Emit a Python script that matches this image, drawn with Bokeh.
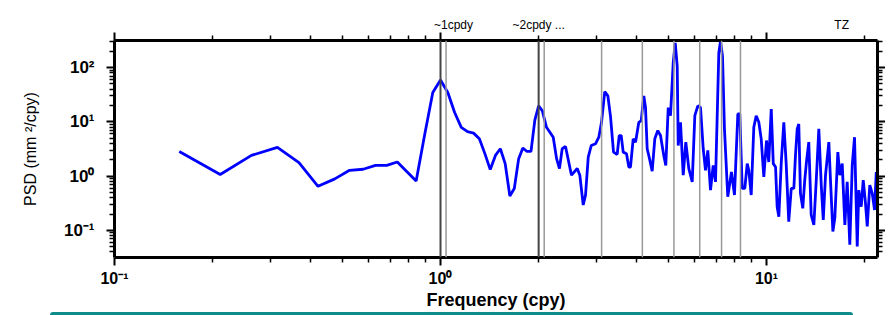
from bokeh.plotting import figure
from bokeh.models import LogAxis, FixedTicker, Span, Div
from bokeh.layouts import column
from bokeh.embed import file_html
from bokeh.resources import INLINE

# ---- data ----
freq = [0.158, 0.211, 0.263, 0.316, 0.368, 0.421, 0.474, 0.526, 0.579, 0.632,
        0.684, 0.737, 0.842, 0.895, 0.947, 1.0, 1.053, 1.105, 1.158, 1.21,
        1.263, 1.316, 1.368, 1.421, 1.474, 1.526, 1.579, 1.632, 1.684, 1.737,
        1.789, 1.842, 1.895, 1.947, 2.0, 2.053, 2.114, 2.217, 2.27, 2.317,
        2.362, 2.418, 2.522, 2.627, 2.675, 2.74, 2.785, 2.839, 2.9, 2.989,
        3.059, 3.118, 3.19, 3.261, 3.323, 3.394, 3.483, 3.533, 3.583, 3.634,
        3.72, 3.781, 3.826, 3.9, 3.965, 4.058, 4.127, 4.204, 4.254, 4.305,
        4.376, 4.46, 4.543, 4.64, 4.73, 4.84, 4.91, 4.995, 5.076, 5.174,
        5.248, 5.322, 5.36, 5.447, 5.553, 5.655, 5.777, 5.917, 6.027, 6.156,
        6.274, 6.395, 6.5, 6.606, 6.733, 6.862, 6.975, 7.14, 7.226, 7.328,
        7.43, 7.606, 7.807, 7.975, 8.166, 8.281, 8.423, 8.578, 8.726, 8.825,
        8.976, 9.142, 9.298, 9.472, 9.632, 9.811, 10.0, 10.16, 10.34, 10.49,
        10.66, 10.78, 10.91, 11.1, 11.3, 11.49, 11.7, 11.91, 12.13, 12.27,
        12.42, 12.56, 12.71, 12.92, 13.1, 13.26, 13.48, 13.71, 13.97, 14.21,
        14.47, 14.72, 14.93, 15.17, 15.53, 15.72, 15.98, 16.2, 16.55, 16.78,
        17.07, 17.39, 17.68, 18.01, 18.32, 18.62, 18.98, 19.19, 19.52, 19.8,
        20.12, 20.37, 20.74, 21.1, 21.45, 21.71, 21.87]
psd = [2.85, 1.07, 2.41, 3.38, 1.77, 0.65, 0.89, 1.28, 1.34, 1.58,
       1.58, 1.82, 0.81, 6.0, 34.7, 59.0, 34.7, 14.9, 7.9, 6.6,
       6.2, 4.9, 2.6, 1.32, 2.41, 3.2, 1.7, 0.43, 0.59, 2.1,
       3.3, 2.85, 2.85, 10.8, 19.8, 16.0, 7.94, 5.21, 2.1, 1.38,
       3.2, 3.52, 1.04, 1.38, 1.04, 0.294, 0.447, 2.24, 3.67, 3.95,
       5.21, 9.8, 36.2, 30.2, 12.5, 2.77, 2.51, 5.6, 5.6, 2.77,
       2.59, 1.47, 1.47, 4.87, 4.23, 9.8, 10.5, 30.2, 18.4, 3.2,
       2.1, 1.23, 4.87, 6.92, 5.6, 2.41, 1.58, 18.4, 13.0, 123.0,
       287.0, 107.0, 3.67, 9.8, 1.04, 4.23, 1.38, 0.783, 13.0, 19.8,
       18.4, 3.2, 1.28, 2.98, 0.552, 1.58, 0.783, 187.0, 306.0, 163.0,
       7.43, 0.417, 1.19, 0.448, 14.0, 14.0, 0.593, 0.593, 1.7, 1.28,
       0.448, 7.94, 13.0, 9.8, 4.87, 0.967, 4.54, 1.82, 17.2, 1.7,
       1.47, 0.273, 0.179, 1.82, 9.8, 1.7, 0.145, 0.593, 0.593, 2.41,
       7.43, 9.16, 0.481, 0.255, 0.841, 1.82, 4.23, 0.193, 0.126, 0.841,
       7.43, 0.682, 0.156, 1.04, 4.23, 0.783, 0.0953, 0.168, 2.77, 1.04,
       1.7, 0.126, 0.783, 0.0545, 1.58, 5.21, 0.0507, 0.552, 0.273, 0.841,
       0.315, 0.118, 0.682, 0.481, 0.238, 1.19, 0.733]

annual_lines = [1.0, 2.0]
draconitic_lines = [1.04, 2.08, 3.12, 4.16, 5.20, 6.24, 7.28, 8.32]

# top annotations: text and the frequency at which each is centred
note_pos = [1.096, 2.0, 17.0]
note_text = ["~1cpdy", "~2cpdy ...", "TZ"]

x_ticks = [0.1, 1, 10]
x_tick_labels = ["10\u207b\u00b9", "10\u2070", "10\u00b9"]
x_minor = [0.2, 0.3, 0.4, 0.5, 0.6, 0.7, 0.8, 0.9, 2, 3, 4, 5, 6, 7, 8, 9, 20]
y_ticks = [0.1, 1, 10, 100]
y_tick_labels = ["10\u207b\u00b9", "10\u2070", "10\u00b9", "10\u00b2"]
y_minor = [0.04, 0.05, 0.06, 0.07, 0.08, 0.09, 0.2, 0.3, 0.4, 0.5, 0.6, 0.7, 0.8, 0.9,
           2, 3, 4, 5, 6, 7, 8, 9, 20, 30, 40, 50, 60, 70, 80, 90, 200, 300]

FONT = "Liberation Sans"

p = figure(x_axis_type="log", y_axis_type="log",
           x_range=(0.1, 21.9), y_range=(10 ** -1.5, 10 ** 2.5),
           width=885, height=312,
           min_border_left=114, min_border_top=40, min_border_right=8, min_border_bottom=54,
           output_backend="svg", toolbar_location=None)
p.outline_line_color = None
p.grid.visible = False


def style(ax, ticks, minor):
    ax.ticker = FixedTicker(ticks=ticks, minor_ticks=minor)
    ax.axis_line_width = 3
    ax.axis_line_color = "black"
    ax.major_tick_out = 8
    ax.major_tick_in = 0
    ax.minor_tick_out = 5
    ax.minor_tick_in = 0
    ax.major_tick_line_width = 2
    ax.minor_tick_line_width = 1.5
    ax.major_tick_line_color = "black"
    ax.minor_tick_line_color = "black"


xa = p.xaxis[0]
style(xa, x_ticks, x_minor)
xa.major_label_overrides = {t: s for t, s in zip(x_ticks, x_tick_labels)}
xa.major_label_text_font = FONT
xa.major_label_text_font_style = "bold"
xa.major_label_text_font_size = "16px"
xa.major_label_text_color = "black"
xa.major_label_standoff = 4
xa.axis_label = "Frequency (cpy)"
xa.axis_label_text_font = FONT
xa.axis_label_text_font_style = "bold"
xa.axis_label_text_font_size = "18px"
xa.axis_label_text_color = "black"
xa.axis_label_standoff = 0

ya = p.yaxis[0]
style(ya, y_ticks, y_minor)
ya.major_label_overrides = {t: s for t, s in zip(y_ticks, y_tick_labels)}
ya.major_label_text_font = FONT
ya.major_label_text_font_style = "bold"
ya.major_label_text_font_size = "17px"
ya.major_label_text_color = "black"
ya.major_label_standoff = 12
ya.axis_label = "PSD (mm \u00b2/cpy)"
ya.axis_label_text_font = FONT
ya.axis_label_text_font_style = "normal"
ya.axis_label_text_font_size = "16px"
ya.axis_label_text_color = "black"
ya.axis_label_standoff = 22

top = LogAxis()
style(top, x_ticks, x_minor)
top.major_label_text_font_size = "0px"
top.major_label_standoff = 0
top.major_label_overrides = {t: "" for t in x_ticks}
p.add_layout(top, "above")

notes = LogAxis(ticker=FixedTicker(ticks=note_pos, minor_ticks=[]),
                major_label_overrides={t: s for t, s in zip(note_pos, note_text)},
                axis_line_color=None, major_tick_line_color=None, minor_tick_line_color=None,
                major_tick_out=0, major_tick_in=0, minor_tick_out=0, minor_tick_in=0,
                major_label_standoff=1, major_label_text_font=FONT,
                major_label_text_font_size="12px", major_label_text_color="black")
p.add_layout(notes, "above")

right = LogAxis()
style(right, y_ticks, y_minor)
right.major_label_text_font_size = "0px"
right.major_label_standoff = 0
right.major_label_overrides = {t: "" for t in y_ticks}
p.add_layout(right, "right")

for f in draconitic_lines:
    p.add_layout(Span(location=f, dimension="height", line_color="#999999", line_width=1.5))
for f in annual_lines:
    p.add_layout(Span(location=f, dimension="height", line_color="#444444", line_width=2))

p.line(freq, psd, line_color="#0000ff", line_width=2.8)

bar = Div(text="", width=803, height=3, margin=(0, 0, 0, 50),
          styles={"background-color": "#0e8c8c", "border-top-left-radius": "3px",
                  "border-top-right-radius": "3px"})

layout = column(p, bar, spacing=0)
open("out.html", "w").write(file_html(layout, INLINE))
